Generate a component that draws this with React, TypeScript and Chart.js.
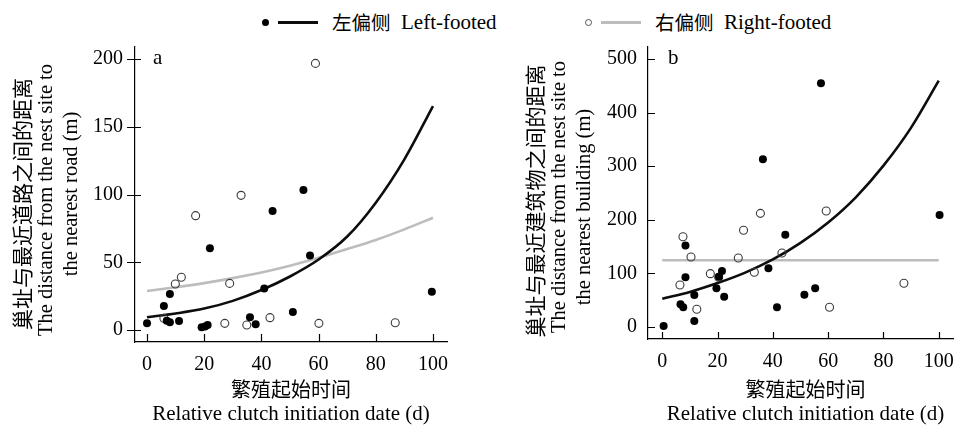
import React, { useEffect, useRef } from 'react';
import { Chart, registerables } from 'chart.js';

Chart.register(...registerables);

// ---------- data ----------
const X_TICKS = [0, 20, 40, 60, 80, 100];
const A_Y_TICKS = [0, 50, 100, 150, 200];
const B_Y_TICKS = [0, 100, 200, 300, 400, 500];

const FIT_X = [0, 10, 20, 30, 40, 50, 60, 70, 80, 90, 100];

// Panel a: distance to nearest road
const A_LEFT_X = [0, 5.9, 8.0, 6.9, 8.0, 11.2, 19.1, 20.3, 21.2, 22.0, 36.0, 38.0, 41.0, 43.9, 51.0, 54.7, 57.0, 99.6];
const A_LEFT_Y = [4.9, 17.7, 26.6, 6.9, 5.7, 6.6, 2.0, 2.5, 3.7, 60.3, 9.4, 4.2, 30.7, 87.8, 13.3, 103.3, 54.9, 28.3];
const A_RIGHT_X = [58.9, 17.0, 32.9, 12.0, 9.9, 28.9, 5.9, 27.2, 34.9, 43.0, 60.1, 86.8];
const A_RIGHT_Y = [196.8, 84.4, 99.4, 38.9, 34.0, 34.4, 8.6, 4.9, 3.7, 9.1, 4.9, 5.4];
const A_LEFT_FIT = [9.4, 12.2, 15.8, 21.5, 29.5, 39.5, 52, 69, 94, 126, 165.3];
const A_RIGHT_FIT = [28.8, 31.5, 34.6, 38.3, 42.5, 47.5, 53.3, 59.8, 66.5, 74.3, 82.9];

// Panel b: distance to nearest building
const B_LEFT_X = [0.5, 8.4, 8.4, 6.6, 7.6, 11.6, 11.6, 19.6, 20.5, 21.6, 22.4, 36.4, 38.4, 41.5, 44.5, 51.4, 55.3, 57.4, 100.3];
const B_LEFT_Y = [1.9, 152, 92.7, 42.3, 36.7, 59.7, 11.2, 72.2, 93.8, 104.5, 56.5, 312.8, 109.5, 36.7, 172.2, 60.3, 72.2, 454.6, 209];
const B_RIGHT_X = [7.5, 10.4, 6.4, 12.5, 17.4, 20.4, 27.5, 29.4, 33.3, 35.5, 43.3, 59.3, 60.5, 87.4];
const B_RIGHT_Y = [168.5, 130.6, 78.4, 33, 99.5, 92.7, 128.7, 180.4, 102, 212, 138, 216.4, 36.7, 81.5];
const B_LEFT_FIT = [52.8, 65.5, 82, 101.5, 126, 157, 195, 242, 301, 372, 459.5];
const B_RIGHT_FIT = [124.4, 124.4, 124.4, 124.4, 124.4, 124.4, 124.4, 124.4, 124.4, 124.4, 124.4];

const LEGEND_LEFT = '左偏侧';
const LEGEND_LEFT_EN = 'Left-footed';
const LEGEND_RIGHT = '右偏侧';
const LEGEND_RIGHT_EN = 'Right-footed';
const X_TITLE_CN = '繁殖起始时间';
const X_TITLE_EN = 'Relative clutch initiation date (d)';
const A_Y_TITLE = ['巢址与最近道路之间的距离', 'The distance from the nest site to', 'the nearest road (m)'];
const B_Y_TITLE = ['巢址与最近建筑物之间的距离', 'The distance from the nest site to', 'the nearest building (m)'];

// ---------- styling ----------
const SERIF = '"Liberation Serif", "Times New Roman", "Noto Sans CJK SC", serif';
const CJK = '"Noto Sans CJK SC", "Liberation Serif", serif';
const BLACK_LINE = '#0d0d0d';
const GRAY_LINE = '#bdbdbd';

const pts = (xs: number[], ys: number[]) => xs.map((x, i) => ({ x, y: ys[i] }));

type PanelCfg = {
  left: number;
  width: number;
  xMin: number; xMax: number; yMin: number; yMax: number;
  yTicks: number[];
  yWidth: number; padRight: number; xHeight: number;
  yTickPadding: number; yTickFrom: number; yTickTo: number; xTickLen: number;
  letter: string; letterX: number; letterY: number;
  yTitle: string[]; yTitleX: number[]; yTitleY: number[];
  xTitleX: number;
  leftX: number[]; leftY: number[]; rightX: number[]; rightY: number[];
  leftFit: number[]; rightFit: number[];
};

const PANEL_A: PanelCfg = {
  left: 0, width: 482,
  xMin: -4.2, xMax: 104.9, yMin: -8.86, yMax: 208.9,
  yTicks: A_Y_TICKS,
  yWidth: 135, padRight: 35, xHeight: 88,
  yTickPadding: 12, yTickFrom: -8, yTickTo: 6, xTickLen: 8,
  letter: 'a', letterX: 158, letterY: 58,
  yTitle: A_Y_TITLE, yTitleX: [22, 47, 72], yTitleY: [204, 200, 194],
  xTitleX: 291,
  leftX: A_LEFT_X, leftY: A_LEFT_Y, rightX: A_RIGHT_X, rightY: A_RIGHT_Y,
  leftFit: A_LEFT_FIT, rightFit: A_RIGHT_FIT,
};

const PANEL_B: PanelCfg = {
  left: 482, width: 483,
  xMin: -5.15, xMax: 105.15, yMin: -22.4, yMax: 522.4,
  yTicks: B_Y_TICKS,
  yWidth: 166, padRight: 2, xHeight: 91,
  yTickPadding: 11, yTickFrom: 0, yTickTo: 7, xTickLen: 7,
  letter: 'b', letterX: 191, letterY: 58,
  yTitle: B_Y_TITLE, yTitleX: [53, 78, 103], yTitleY: [201, 197, 207],
  xTitleX: 323.5,
  leftX: B_LEFT_X, leftY: B_LEFT_Y, rightX: B_RIGHT_X, rightY: B_RIGHT_Y,
  leftFit: B_LEFT_FIT, rightFit: B_RIGHT_FIT,
};

function makeDecor(cfg: PanelCfg) {
  return {
    id: 'decor' + cfg.letter,
    afterDraw(chart: any) {
      const ctx = chart.ctx as CanvasRenderingContext2D;
      const ca = chart.chartArea;
      const xs = chart.scales.x;
      const ys = chart.scales.y;
      ctx.save();
      ctx.strokeStyle = '#000';
      ctx.lineWidth = 1.2;
      ctx.beginPath();
      for (const v of X_TICKS) {
        const px = Math.round(xs.getPixelForValue(v)) + 0.5;
        ctx.moveTo(px, ca.bottom);
        ctx.lineTo(px, ca.bottom - cfg.xTickLen);
      }
      for (const v of cfg.yTicks) {
        const py = Math.round(ys.getPixelForValue(v)) + 0.5;
        ctx.moveTo(ca.left + cfg.yTickFrom, py);
        ctx.lineTo(ca.left + cfg.yTickTo, py);
      }
      ctx.stroke();

      ctx.fillStyle = '#000';
      ctx.textBaseline = 'middle';
      ctx.textAlign = 'left';
      ctx.font = `21px ${SERIF}`;
      ctx.fillText(cfg.letter, cfg.letterX - 5, cfg.letterY);

      ctx.textAlign = 'center';
      cfg.yTitle.forEach((t, i) => {
        ctx.save();
        ctx.translate(cfg.yTitleX[i], cfg.yTitleY[i]);
        ctx.rotate(-Math.PI / 2);
        ctx.font = i === 0 ? `21px ${CJK}` : `20.5px ${SERIF}`;
        ctx.fillText(t, 0, 0);
        ctx.restore();
      });

      ctx.font = `20px ${CJK}`;
      ctx.fillText(X_TITLE_CN, cfg.xTitleX, 389);
      ctx.font = `21px ${SERIF}`;
      ctx.fillText(X_TITLE_EN, cfg.xTitleX, 414);
      ctx.restore();
    },
  };
}

function Panel({ cfg }: { cfg: PanelCfg }) {
  const ref = useRef<HTMLCanvasElement>(null);
  useEffect(() => {
    const tickFont = { family: SERIF, size: 20 };
    const chart = new Chart(ref.current as HTMLCanvasElement, {
      type: 'scatter',
      data: {
        datasets: [
          {
            label: LEGEND_LEFT_EN,
            data: pts(cfg.leftX, cfg.leftY),
            pointRadius: 4,
            pointBackgroundColor: '#000',
            pointBorderColor: '#000',
            pointBorderWidth: 0,
          },
          {
            label: LEGEND_RIGHT_EN,
            data: pts(cfg.rightX, cfg.rightY),
            pointRadius: 4,
            pointBackgroundColor: 'rgba(255,255,255,0)',
            pointBorderColor: '#3a3a3a',
            pointBorderWidth: 1.1,
          },
          {
            label: LEGEND_LEFT_EN + ' fit',
            data: pts(FIT_X, cfg.leftFit),
            showLine: true,
            pointRadius: 0,
            borderColor: BLACK_LINE,
            borderWidth: 2.6,
            cubicInterpolationMode: 'monotone',
          },
          {
            label: LEGEND_RIGHT_EN + ' fit',
            data: pts(FIT_X, cfg.rightFit),
            showLine: true,
            pointRadius: 0,
            borderColor: GRAY_LINE,
            borderWidth: 2.6,
            cubicInterpolationMode: 'monotone',
          },
        ] as any,
      },
      options: {
        responsive: false,
        animation: false,
        maintainAspectRatio: false,
        layout: { padding: { left: 0, right: cfg.padRight, top: 47, bottom: 0 } },
        plugins: { legend: { display: false }, tooltip: { enabled: false } },
        scales: {
          x: {
            type: 'linear',
            min: cfg.xMin,
            max: cfg.xMax,
            afterBuildTicks: (s: any) => { s.ticks = X_TICKS.map((v) => ({ value: v })); },
            afterFit: (s: any) => { s.height = cfg.xHeight; },
            grid: { display: false, drawTicks: false },
            border: { display: true, color: '#000', width: 1.2 },
            ticks: { font: tickFont, color: '#000', padding: 11, maxRotation: 0, autoSkip: false },
          },
          y: {
            type: 'linear',
            min: cfg.yMin,
            max: cfg.yMax,
            afterBuildTicks: (s: any) => { s.ticks = cfg.yTicks.map((v) => ({ value: v })); },
            afterFit: (s: any) => { s.width = cfg.yWidth; },
            grid: { display: false, drawTicks: false },
            border: { display: true, color: '#000', width: 1.2 },
            ticks: { font: tickFont, color: '#000', padding: cfg.yTickPadding, autoSkip: false },
          },
        },
      } as any,
      plugins: [makeDecor(cfg)],
    });
    return () => chart.destroy();
  }, []);
  return (
    <canvas
      ref={ref}
      width={cfg.width}
      height={430}
      style={{ position: 'absolute', left: cfg.left, top: 0, width: cfg.width, height: 430 }}
    />
  );
}

function Legend() {
  const base: React.CSSProperties = { position: 'absolute', whiteSpace: 'nowrap', lineHeight: '1', color: '#000' };
  return (
    <div style={{ position: 'absolute', left: 0, top: 0, width: 965, height: 40 }}>
      <span style={{ ...base, left: 261.5, top: 18.5, width: 7, height: 7, borderRadius: '50%', background: '#000' }} />
      <span style={{ ...base, left: 278, top: 21, width: 40, height: 2.6, background: BLACK_LINE }} />
      <span style={{ ...base, left: 332, top: 12, fontFamily: CJK, fontSize: 19.5 }}>{LEGEND_LEFT}</span>
      <span style={{ ...base, left: 401, top: 12, fontFamily: SERIF, fontSize: 21 }}>{LEGEND_LEFT_EN}</span>

      <span style={{ ...base, left: 584.5, top: 18.5, width: 7, height: 7, borderRadius: '50%', border: '1px solid #555', boxSizing: 'border-box' }} />
      <span style={{ ...base, left: 601, top: 21, width: 40, height: 2.6, background: GRAY_LINE }} />
      <span style={{ ...base, left: 655, top: 12, fontFamily: CJK, fontSize: 19.5 }}>{LEGEND_RIGHT}</span>
      <span style={{ ...base, left: 724, top: 12, fontFamily: SERIF, fontSize: 21 }}>{LEGEND_RIGHT_EN}</span>
    </div>
  );
}

export default function App() {
  useEffect(() => {
    document.body.style.margin = '0';
  }, []);
  return (
    <div style={{ position: 'relative', width: 965, height: 430, background: '#fff', overflow: 'hidden' }}>
      <Legend />
      <Panel cfg={PANEL_A} />
      <Panel cfg={PANEL_B} />
    </div>
  );
}
